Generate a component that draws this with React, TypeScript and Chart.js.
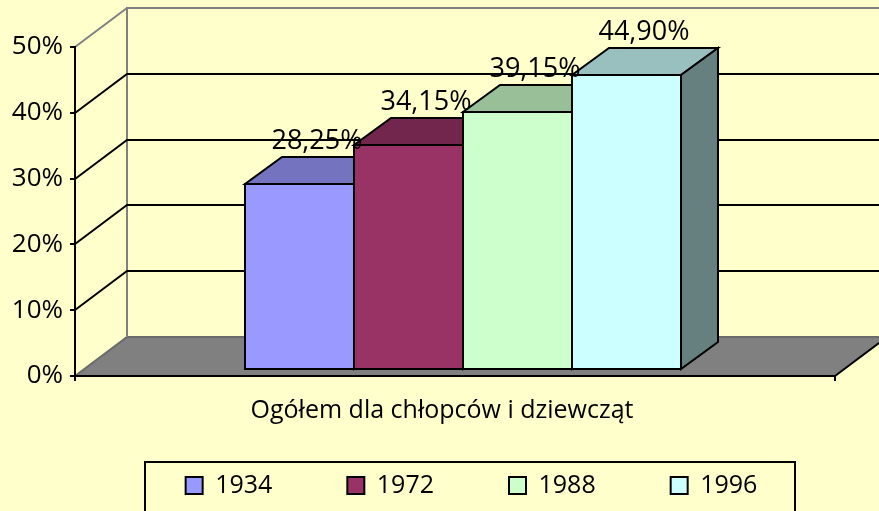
import { useEffect, useRef } from 'react';
import { Chart, registerables } from 'chart.js';

Chart.register(...registerables);

const categories = ['Ogółem dla chłopców i dziewcząt'];
const years = ['1934', '1972', '1988', '1996'];
const values = [28.25, 34.15, 39.15, 44.9];
const yMin = 0;
const yMax = 50;
const yStep = 10;
const frontColors = ['#9999FF', '#993366', '#CCFFCC', '#CCFFFF'];
const topColors = ['#7373BF', '#73264D', '#99BF99', '#99BFBF'];
const sideColors = ['#4D4D80', '#4D1A33', '#668066', '#668080'];

const FONT = "'Open Sans', sans-serif";
const DEPTH = { x: 52, y: -39 };
const BAR_SHIFT = { x: 8, y: -6 };
const BAR_DEPTH = { x: 37, y: -27 };

const fmt = (v: number) => v.toFixed(2).replace('.', ',') + '%';

const excel3d = {
  id: 'excel3d',
  afterLayout(chart: any) {
    const x = chart.scales.x;
    x.height = 80;
    x.bottom = x.top + 80;
    if (chart.legend) chart.legend.left = 64;
  },
  beforeDraw(chart: any) {
    const { ctx, chartArea: a, scales } = chart;
    const ys = scales.y;
    ctx.save();
    ctx.fillStyle = '#FFFFCC';
    ctx.fillRect(0, 0, chart.width, chart.height);
    const y0 = Math.round(ys.getPixelForValue(yMin));
    const yTop = Math.round(ys.getPixelForValue(yMax));
    const L = Math.round(a.left);
    const R = Math.round(a.right);
    // floor
    ctx.fillStyle = '#808080';
    ctx.beginPath();
    ctx.moveTo(L, y0);
    ctx.lineTo(L + DEPTH.x, y0 + DEPTH.y);
    ctx.lineTo(R + DEPTH.x, y0 + DEPTH.y);
    ctx.lineTo(R, y0);
    ctx.closePath();
    ctx.fill();
    ctx.lineWidth = 2;
    ctx.strokeStyle = '#6A6A6A';
    ctx.beginPath();
    ctx.moveTo(L, y0);
    ctx.lineTo(L + DEPTH.x, y0 + DEPTH.y);
    ctx.lineTo(R + DEPTH.x, y0 + DEPTH.y);
    ctx.stroke();
    // right floor edge
    ctx.strokeStyle = '#000';
    ctx.beginPath();
    ctx.moveTo(R, y0);
    ctx.lineTo(R + DEPTH.x, y0 + DEPTH.y);
    ctx.stroke();
    // walls outline (grey)
    ctx.strokeStyle = '#808080';
    ctx.beginPath();
    ctx.moveTo(L + DEPTH.x, y0 + DEPTH.y);
    ctx.lineTo(L + DEPTH.x, yTop + DEPTH.y);
    ctx.lineTo(R + DEPTH.x, yTop + DEPTH.y);
    ctx.moveTo(L, yTop);
    ctx.lineTo(L + DEPTH.x, yTop + DEPTH.y);
    ctx.stroke();
    // gridlines
    ctx.strokeStyle = '#000';
    for (let v = yMin + yStep; v < yMax; v += yStep) {
      const y = Math.round(ys.getPixelForValue(v));
      ctx.beginPath();
      ctx.moveTo(L, y);
      ctx.lineTo(L + DEPTH.x, y + DEPTH.y);
      ctx.lineTo(R + DEPTH.x, y + DEPTH.y);
      ctx.stroke();
    }
    ctx.restore();
  },
  beforeDatasetsDraw(chart: any) {
    const { ctx } = chart;
    ctx.save();
    ctx.lineWidth = 2;
    ctx.strokeStyle = '#000';
    ctx.lineJoin = 'miter';
    const bars: any[] = [];
    chart.data.datasets.forEach((ds: any, i: number) => {
      const el = chart.getDatasetMeta(i).data[0];
      const x1 = Math.round(el.x - el.width / 2 + BAR_SHIFT.x);
      const x2 = Math.round(el.x + el.width / 2 + BAR_SHIFT.x);
      const yt = Math.round(el.y + BAR_SHIFT.y);
      const yb = Math.round(el.base + BAR_SHIFT.y);
      bars.push({ x1, x2, yt, yb, v: ds.data[0] });
      // top
      ctx.fillStyle = topColors[i];
      ctx.beginPath();
      ctx.moveTo(x1, yt);
      ctx.lineTo(x2, yt);
      ctx.lineTo(x2 + BAR_DEPTH.x, yt + BAR_DEPTH.y);
      ctx.lineTo(x1 + BAR_DEPTH.x, yt + BAR_DEPTH.y);
      ctx.closePath();
      ctx.fill();
      ctx.stroke();
      // side
      ctx.fillStyle = sideColors[i];
      ctx.beginPath();
      ctx.moveTo(x2, yt);
      ctx.lineTo(x2 + BAR_DEPTH.x, yt + BAR_DEPTH.y);
      ctx.lineTo(x2 + BAR_DEPTH.x, yb + BAR_DEPTH.y);
      ctx.lineTo(x2, yb);
      ctx.closePath();
      ctx.fill();
      ctx.stroke();
      // front
      ctx.fillStyle = frontColors[i];
      ctx.fillRect(x1, yt, x2 - x1, yb - yt);
      ctx.strokeRect(x1, yt, x2 - x1, yb - yt);
    });
    ctx.fillStyle = '#000';
    ctx.font = `27px ${FONT}`;
    ctx.textAlign = 'center';
    ctx.textBaseline = 'alphabetic';
    bars.forEach((b) => {
      const cx = (b.x1 + b.x2) / 2 + BAR_DEPTH.x / 2 - 1;
      const base = b.yt + BAR_DEPTH.y - 8;
      ctx.fillText(fmt(b.v), cx, base);
    });
    ctx.restore();
    return false;
  },
  afterDraw(chart: any) {
    const lg = chart.legend;
    if (!lg || !lg.legendHitBoxes || !lg.legendHitBoxes.length) return;
    const hb = lg.legendHitBoxes;
    const first = hb[0];
    const last = hb[hb.length - 1];
    const { ctx } = chart;
    ctx.save();
    ctx.strokeStyle = '#000';
    ctx.lineWidth = 2;
    const left = Math.round(first.left - 41);
    const right = Math.round(last.left + last.width + 38);
    const top = Math.round(first.top - 11);
    ctx.strokeRect(left, top, right - left, chart.height + 20 - top);
    ctx.restore();
  },
};

export default function App() {
  const ref = useRef<HTMLCanvasElement>(null);
  useEffect(() => {
    const canvas = ref.current!;
    const chart = new Chart(canvas, {
      type: 'bar',
      data: {
        labels: categories,
        datasets: years.map((yr, i) => ({
          label: yr,
          data: [values[i]],
          backgroundColor: frontColors[i],
          borderColor: '#000',
          borderWidth: 2,
        })),
      },
      options: {
        responsive: false,
        animation: false,
        devicePixelRatio: 1,
        font: { family: FONT },
        layout: { padding: { left: 0, top: 47, right: 0, bottom: 3 } },
        datasets: { bar: { categoryPercentage: 0.574, barPercentage: 1 } },
        plugins: {
          legend: {
            position: 'bottom',
            labels: {
              boxWidth: 17,
              boxHeight: 17,
              padding: 75,
              color: '#000',
              font: { size: 25, family: FONT },
            },
          },
          tooltip: { enabled: false },
        },
        scales: {
          x: {
            grid: { display: true, drawOnChartArea: false, drawTicks: true, tickLength: 5, color: '#000', lineWidth: 2 },
            border: { display: true, color: '#000', width: 2 },
            ticks: { color: '#000', font: { size: 25, family: FONT }, padding: 15, labelOffset: -13 },
            afterFit: (s: any) => { s.height = 22; },
          },
          y: {
            min: yMin,
            max: yMax,
            ticks: {
              stepSize: yStep,
              callback: (v: any) => v + '%',
              color: '#000',
              font: { size: 26, family: FONT },
              padding: 7,
            },
            grid: { drawOnChartArea: false, tickLength: 5, color: '#000', lineWidth: 2 },
            border: { color: '#000', width: 2 },
            afterFit: (s: any) => { s.width = 75; },
          },
          r: {
            position: 'right',
            display: true,
            grid: { display: false },
            border: { display: false },
            ticks: { display: false },
            afterFit: (s: any) => { s.width = 44; },
          },
        },
      } as any,
      plugins: [excel3d],
    });
    return () => chart.destroy();
  }, []);
  return (
    <div style={{ position: 'fixed', left: 0, top: 0, width: 879, height: 511, background: '#FFFFCC' }}>
      <canvas ref={ref} width={879} height={511} style={{ display: 'block' }} />
    </div>
  );
}
